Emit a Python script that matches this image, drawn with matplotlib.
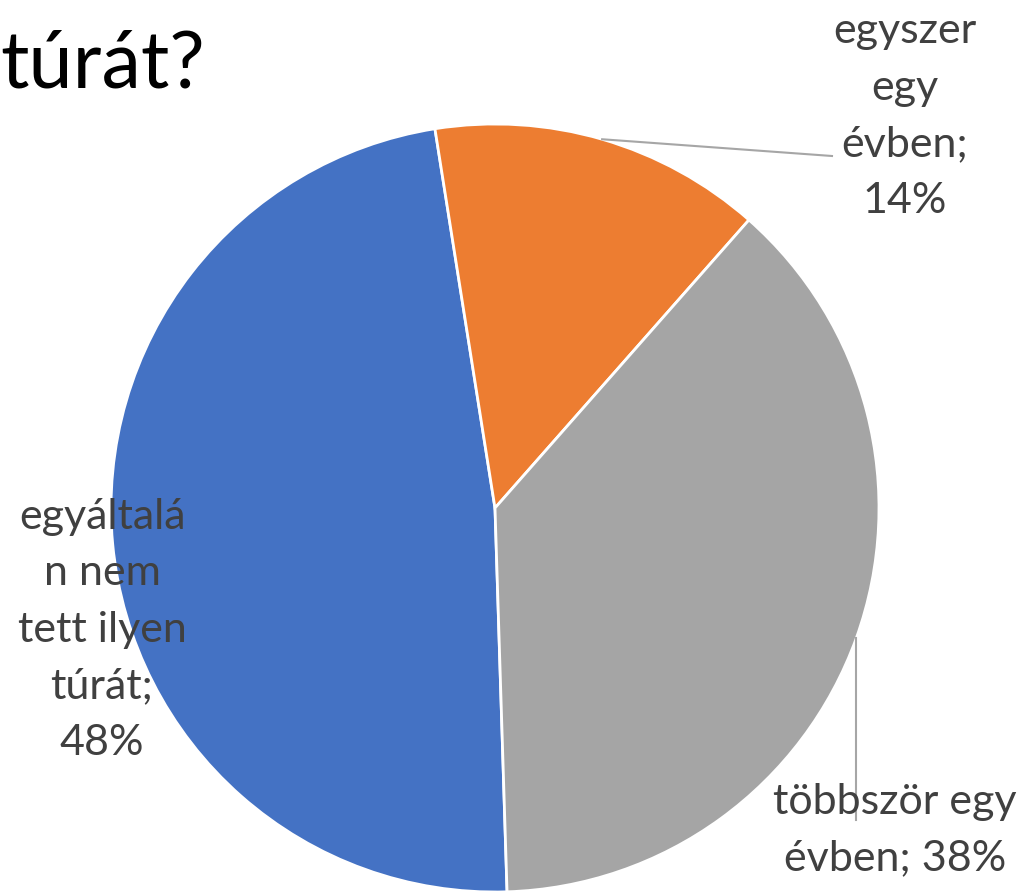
import numpy as np
import matplotlib
matplotlib.use("Agg")
from matplotlib import pyplot as plt

# data (Excel order: blue, orange, gray)
labels = ["egyáltalá\nn nem\ntett ilyen\ntúrát;", "egyszer\negy\névben;", "többször egy\névben;"]
values = [48, 14, 38]
colors = ["#4472C4", "#ED7D31", "#A5A5A5"]

W, H = 1025, 893
fig = plt.figure(figsize=(W / 100, H / 100), dpi=100)
ax = fig.add_axes([0, 0, 1, 1])

# pie centre at (495, 508) px from top-left, radius 384 px
cx, cy, r = 495, 508, 384

start = -88.2
wedges, _ = ax.pie(values, colors=colors, startangle=start, counterclock=False,
                   radius=1, center=(0, 0), frame=True,
                   wedgeprops=dict(edgecolor="white", linewidth=2))
ax.set_xlim(-cx / r, (W - cx) / r)
ax.set_ylim(-(H - cy) / r, cy / r)
ax.set_aspect("equal")
ax.axis("off")

font = "Lato"
tc = "#404040"
fs = 31


def px(x, y):
    return ((x - cx) / r, (cy - y) / r)


texts = [labels[0] + "\n48%", labels[1] + "\n14%", "többször egy\névben; 38%"]
label_pos = [(102, 630), (905, 116), (895, 830)]
for t, (x, y) in zip(texts, label_pos):
    ax.text(*px(x, y), t, ha="center", va="center", fontsize=fs, family=font,
            color=tc, linespacing=1.6)

# leader lines from wedge midpoints
cum = np.cumsum([0] + values)
for i, end in [(1, (832, 156)), (2, None)]:
    mid = start - 360 * (cum[i] + values[i] / 2) / 100
    x0, y0 = np.cos(np.radians(mid)), np.sin(np.radians(mid))
    if end is None:
        x1, y1 = x0, (cy - 820) / r
    else:
        x1, y1 = px(*end)
    ax.plot([x0, x1], [y0, y1], color="#A6A6A6", linewidth=1.5)

ax.text(*px(0, 88), "túrát?", ha="left", va="baseline", fontsize=57, family=font,
        color="black")

fig.savefig("out.png", dpi=100)
